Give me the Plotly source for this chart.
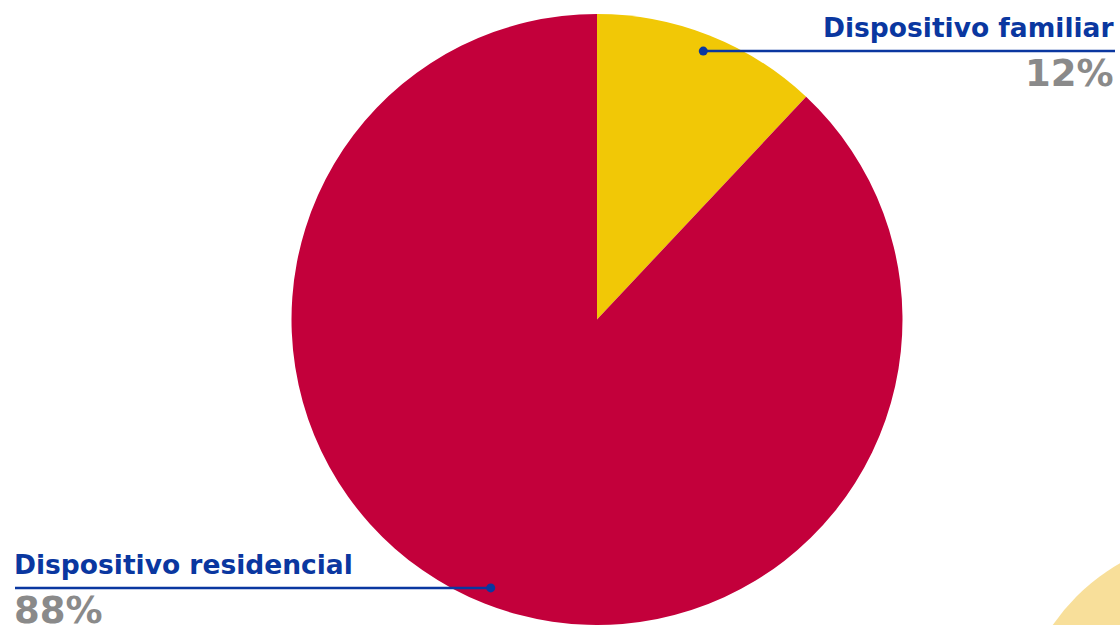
import math
import plotly.graph_objects as go

# ---- data ----
categories = ["Dispositivo familiar", "Dispositivo residencial"]
values = [12, 88]
value_labels = ["12%", "88%"]

# ---- styling ----
W, H = 1120, 625
RED = "#C3003B"
YELLOW = "#F1C806"
BLUE = "#0A37A0"
GRAY = "#8A8A8A"
DECO = "#F8DF9A"
FONT = "DejaVu Sans"

def px(x):
    return x / W

def py(y):
    return 1 - y / H

# pie placement (pixels)
cx, cy, R = 597, 319.5, 305.5

fig = go.Figure()
fig.add_trace(go.Pie(
    labels=categories,
    values=values,
    sort=False,
    direction="clockwise",
    rotation=0,
    marker=dict(colors=[YELLOW, RED], line=dict(width=0)),
    textinfo="none",
    hoverinfo="label+percent",
    showlegend=False,
    domain=dict(x=[px(cx - R), px(cx + R)], y=[0, py(cy - R)]),
))

shapes = []
# decorative circle bottom-right
shapes.append(dict(type="circle", xref="paper", yref="paper", layer="below",
                   x0=px(1017), x1=px(1423), y0=py(943), y1=py(537),
                   fillcolor=DECO, line=dict(width=0)))

# leader dots computed from slice mid-angles
total = sum(values)
cum = 0
dots = []
for v in values:
    mid = (cum + v / 2) / total * 2 * math.pi
    cum += v
    rr = 0.945 * R
    dots.append((cx + rr * math.sin(mid), cy - rr * math.cos(mid)))

# familiar (right, top)
d0 = dots[0]
shapes.append(dict(type="line", xref="paper", yref="paper",
                   x0=px(d0[0]), y0=py(d0[1]), x1=px(1115), y1=py(d0[1]),
                   line=dict(color=BLUE, width=2.5)))
# residencial (left, bottom)
d1 = dots[1]
shapes.append(dict(type="line", xref="paper", yref="paper",
                   x0=px(15), y0=py(d1[1]), x1=px(d1[0]), y1=py(d1[1]),
                   line=dict(color=BLUE, width=2.5)))
for d in dots:
    r = 4.5
    shapes.append(dict(type="circle", xref="paper", yref="paper",
                       x0=px(d[0] - r), x1=px(d[0] + r), y0=py(d[1] + r), y1=py(d[1] - r),
                       fillcolor=BLUE, line=dict(width=0)))

annotations = [
    dict(text=f"<b>{categories[0]}</b>", x=px(1115), y=py(d0[1] - 7), xanchor="right", yanchor="bottom",
         font=dict(family=FONT, size=26.5, color=BLUE)),
    dict(text=f"<b>{value_labels[0]}</b>", x=px(1115), y=py(d0[1] + 0), xanchor="right", yanchor="top",
         font=dict(family=FONT, size=37, color=GRAY)),
    dict(text=f"<b>{categories[1]}</b>", x=px(13), y=py(d1[1] - 7), xanchor="left", yanchor="bottom",
         font=dict(family=FONT, size=26.5, color=BLUE)),
    dict(text=f"<b>{value_labels[1]}</b>", x=px(13), y=py(d1[1] + 0), xanchor="left", yanchor="top",
         font=dict(family=FONT, size=37, color=GRAY)),
]
for a in annotations:
    a.update(xref="paper", yref="paper", showarrow=False, borderpad=0)

fig.update_layout(
    width=W, height=H,
    margin=dict(l=0, r=0, t=0, b=0),
    paper_bgcolor="white", plot_bgcolor="white",
    shapes=shapes, annotations=annotations,
)

fig.write_html("out.html", config={"displayModeBar": False},
               post_script="document.body.style.margin='0';document.body.style.overflow='hidden';")
